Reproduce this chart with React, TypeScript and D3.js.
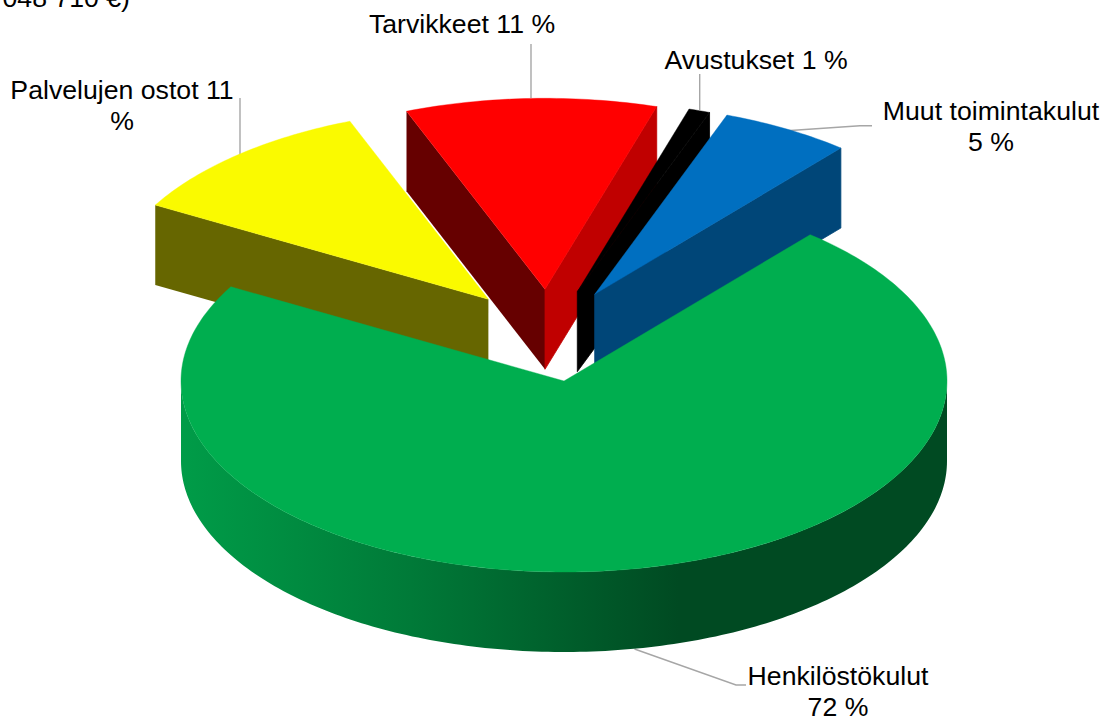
import React from "react";
import * as d3 from "d3";

const categories = ["Henkilöstökulut", "Palvelujen ostot", "Tarvikkeet", "Avustukset", "Muut toimintakulut"];
const shares = [72.1, 10.9, 10.6, 0.9, 5.5];
const topColors = ["#00ae4f", "#fafa00", "#ff0000", "#000000", "#006fc0"];
const startWallColors = ["#00ae4f", "#666600", "#660000", "#000000", "#004678"];
const endWallColors = ["#004a22", "#666600", "#c00000", "#000000", "#004678"];
const drawOrder = [1, 2, 3, 4, 0];
const explodeX = [0, -75.6, -19, 13.3, 30.7];
const explodeY = [0, -81.7, -91.7, -89.3, -86.7];

const labelLines = [
  { lines: ["Henkilöstökulut", "72 %"], x: 838, y: 685 },
  { lines: ["Palvelujen ostot 11", "%"], x: 122, y: 99 },
  { lines: ["Tarvikkeet 11 %"], x: 462, y: 33 },
  { lines: ["Avustukset 1 %"], x: 756, y: 69 },
  { lines: ["Muut toimintakulut", "5 %"], x: 991, y: 120 },
];
const leaders: [number, number][][] = [
  [[634.5, 649], [736, 685], [746, 685]],
  [[240, 98], [240, 155]],
  [[531, 44], [531, 98]],
  [[699.7, 74], [699.7, 110]],
  [[786.7, 130.7], [860, 125.7], [872, 125.7]],
];

const cx = 564, cy = 381, rx = 383, ry = 191, depth = 80;
const TAU = Math.PI * 2;

const pie = d3.pie<number>().sort(null).startAngle((40 / 360) * TAU).endAngle((400 / 360) * TAU);
const arcs = pie(shares);

const rimX = d3.scaleLinear().domain([-1, 1]).range([-rx, rx]);
const rimY = d3.scaleLinear().domain([-1, 1]).range([-ry, ry]);
const line = d3.line();

const pt = (i: number, a: number, dz = 0): [number, number] => [
  cx + explodeX[i] + rimX(Math.sin(a)),
  cy + explodeY[i] - rimY(Math.cos(a)) + dz,
];
const arcPts = (i: number, a0: number, a1: number, dz = 0) => {
  const n = Math.max(4, Math.ceil(Math.abs(a1 - a0) * 60));
  return d3.range(n + 1).map((k) => pt(i, a0 + ((a1 - a0) * k) / n, dz));
};
const apex = (i: number, dz = 0): [number, number] => [cx + explodeX[i], cy + explodeY[i] + dz];

const wall = (i: number, a: number) =>
  line([pt(i, a), apex(i), apex(i, depth), pt(i, a, depth)]) + "Z";

export default function App() {
  return (
    <svg
      width={1108}
      height={719}
      style={{ position: "absolute", left: 0, top: 0, display: "block" }}
      fontFamily="'Liberation Sans', Arial, sans-serif"
      fontSize={26.67}
      fill="#000"
    >
      <defs>
        <linearGradient id="rim" gradientUnits="userSpaceOnUse" x1={181} x2={947} y1={0} y2={0}>
          <stop offset="0" stopColor="#009c48" />
          <stop offset="0.3" stopColor="#007a38" />
          <stop offset="0.65" stopColor="#004a22" />
          <stop offset="1" stopColor="#004a22" />
        </linearGradient>
      </defs>
      <text x={130} y={7} textAnchor="end">048 710 €)</text>
      {leaders.map((l, i) => (
        <path key={i} d={line(l) as string} fill="none" stroke="#a6a6a6" strokeWidth={1.4} />
      ))}
      {drawOrder.map((i) => {
        const { startAngle: a0, endAngle: a1 } = arcs[i];
        const rimStart = Math.max(a0, Math.PI / 2);
        const rimEnd = Math.min(a1, (Math.PI * 3) / 2);
        return (
          <g key={categories[i]}>
            {Math.sin(a0) < 0 && <path d={wall(i, a0)} fill={startWallColors[i]} />}
            {Math.sin(a1) > 0 && (
              <path d={wall(i, a1)} fill={endWallColors[i]} stroke={endWallColors[i]} strokeWidth={0.8} />
            )}
            {rimEnd > rimStart && (
              <path
                d={line([...arcPts(i, rimStart, rimEnd), ...arcPts(i, rimEnd, rimStart, depth)]) + "Z"}
                fill="url(#rim)"
              />
            )}
            <path
              d={line([apex(i), ...arcPts(i, a0, a1)]) + "Z"}
              fill={topColors[i]}
              stroke={topColors[i]}
              strokeWidth={0.4}
            />
          </g>
        );
      })}
      {labelLines.map((t) => (
        <text key={t.lines[0]} textAnchor="middle">
          {t.lines.map((s, k) => (
            <tspan key={k} x={t.x} y={t.y + k * 31}>{s}</tspan>
          ))}
        </text>
      ))}
    </svg>
  );
}
